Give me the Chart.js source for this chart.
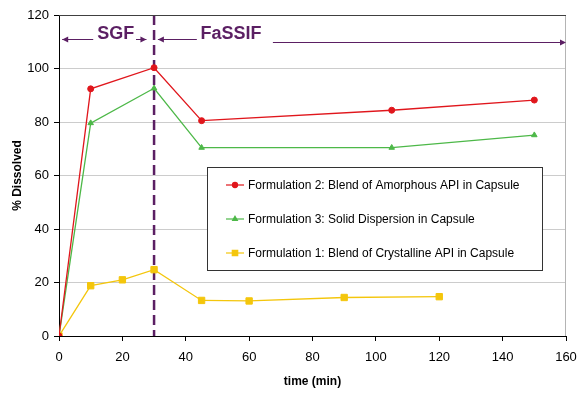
<!DOCTYPE html>
<html>
<head>
<meta charset="utf-8">
<script src="https://cdn.jsdelivr.net/npm/chart.js@4/dist/chart.umd.min.js"></script>
<style>
  html, body { margin: 0; padding: 0; background: #fff; }
  #wrap { width: 586px; height: 399px; }
</style>
</head>
<body>
<div id="wrap"><canvas id="chart"></canvas></div>
<script>
// datos
const labels = [
  'Formulation 2: Blend of Amorphous API in Capsule',
  'Formulation 3: Solid Dispersion in Capsule',
  'Formulation 1: Blend of Crystalline API in Capsule'
];
const timeF2 = [0, 10, 30, 45, 105, 150];
const valsF2 = [0, 92.4, 100.3, 80.5, 84.4, 88.2];
const timeF3 = [0, 10, 30, 45, 105, 150];
const valsF3 = [0, 79.6, 92.6, 70.4, 70.4, 75.1];
const timeF1 = [0, 10, 20, 30, 45, 60, 90, 120];
const valsF1 = [0, 18.8, 21.0, 24.8, 13.3, 13.1, 14.4, 14.7];
const xTicks = [0, 20, 40, 60, 80, 100, 120, 140, 160];
const yTicks = [0, 20, 40, 60, 80, 100, 120];
const phaseSwitch = 30; // SGF -> FaSSIF

const colors = ['#e0161c', '#4db848', '#f4c60c'];
const styles = ['circle', 'triangle', 'rect'];
const radii = [3, 3.2, 4.5];
const purple = '#5b1f63';
const FONT = '"Liberation Sans", Arial, sans-serif';

const toXY = (xs, ys) => xs.map((x, i) => ({ x: x, y: ys[i] }));
const series = [toXY(timeF2, valsF2), toXY(timeF3, valsF3), toXY(timeF1, valsF1)];

function arrowHead(ctx, x, y, dir) {
  ctx.beginPath();
  ctx.moveTo(x, y);
  ctx.lineTo(x - dir * 6, y - 3);
  ctx.lineTo(x - dir * 6, y + 3);
  ctx.closePath();
  ctx.fill();
}

const overlay = {
  id: 'overlay',
  beforeDatasetsDraw(chart) {
    const { ctx, scales: { x, y } } = chart;
    ctx.save();
    ctx.strokeStyle = purple;
    ctx.lineWidth = 2.5;
    ctx.setLineDash([10, 5]);
    ctx.beginPath();
    ctx.moveTo(x.getPixelForValue(phaseSwitch), y.getPixelForValue(120));
    ctx.lineTo(x.getPixelForValue(phaseSwitch), y.getPixelForValue(0));
    ctx.stroke();
    ctx.restore();
  },
  afterDatasetsDraw(chart) {
    const { ctx, chartArea: a, scales: { x, y } } = chart;
    ctx.save();
    // borde del area
    ctx.lineWidth = 1;
    ctx.strokeStyle = '#b4b4b4';
    ctx.beginPath();
    ctx.moveTo(a.right - 0.5, a.top);
    ctx.lineTo(a.right - 0.5, a.bottom);
    ctx.stroke();
    ctx.strokeStyle = '#404040';
    ctx.beginPath();
    ctx.moveTo(a.left, a.top + 0.5);
    ctx.lineTo(a.right, a.top + 0.5);
    ctx.stroke();

    // flechas SGF / FaSSIF
    ctx.strokeStyle = purple;
    ctx.fillStyle = purple;
    const yA = Math.round(y.getPixelForValue(111)) + 0.5;
    const yB = Math.round(y.getPixelForValue(110)) + 0.5;
    const seg = (x1, x2, yy) => {
      ctx.beginPath();
      ctx.moveTo(x.getPixelForValue(x1), yy);
      ctx.lineTo(x.getPixelForValue(x2), yy);
      ctx.stroke();
    };
    seg(1, 10.8, yA); arrowHead(ctx, x.getPixelForValue(1), yA, -1);
    seg(24.3, 27.6, yA); arrowHead(ctx, x.getPixelForValue(27.6), yA, 1);
    seg(31.2, 43.5, yA); arrowHead(ctx, x.getPixelForValue(31.2), yA, -1);
    seg(67.5, 159.5, yB); arrowHead(ctx, x.getPixelForValue(160), yB, 1);

    ctx.font = 'bold 18px ' + FONT;
    ctx.textAlign = 'center';
    ctx.textBaseline = 'middle';
    ctx.fillText('SGF', x.getPixelForValue(17.9), y.getPixelForValue(113));
    ctx.fillText('FaSSIF', x.getPixelForValue(54.3), y.getPixelForValue(113));

    // leyenda dentro del grafico
    const lx = 207, ly = 167, lw = 335, lh = 103;
    ctx.fillStyle = '#fff';
    ctx.fillRect(lx, ly, lw, lh);
    ctx.strokeStyle = '#333';
    ctx.strokeRect(lx + 0.5, ly + 0.5, lw, lh);
    ctx.font = '12px ' + FONT;
    ctx.textAlign = 'left';
    const rows = [185, 219, 253];
    labels.forEach((lab, i) => {
      ctx.strokeStyle = colors[i];
      ctx.lineWidth = 1.2;
      ctx.beginPath();
      ctx.moveTo(226, rows[i]);
      ctx.lineTo(244, rows[i]);
      ctx.stroke();
      ctx.fillStyle = colors[i];
      Chart.helpers.drawPoint(ctx, { pointStyle: styles[i], radius: radii[i] * 0.85, borderWidth: 1 }, 235, rows[i]);
      ctx.fillStyle = '#000';
      ctx.fillText(lab, 248, rows[i] + 0.5);
    });
    ctx.restore();
  }
};

new Chart(document.getElementById('chart'), {
  type: 'scatter',
  data: {
    datasets: series.map((d, i) => ({
      label: labels[i],
      data: d,
      showLine: true,
      borderColor: colors[i],
      backgroundColor: colors[i],
      borderWidth: 1.3,
      pointStyle: styles[i],
      pointRadius: radii[i],
      pointBorderWidth: 1,
      tension: 0
    }))
  },
  options: {
    responsive: true,
    maintainAspectRatio: false,
    animation: false,
    layout: { padding: { left: 6, right: 20, top: 15, bottom: 6 } },
    plugins: {
      legend: { display: false },
      tooltip: { enabled: false }
    },
    scales: {
      x: {
        type: 'linear',
        min: 0,
        max: 160,
        afterBuildTicks: s => { s.ticks = xTicks.map(v => ({ value: v })); },
        afterFit: s => { s.height = 57; },
        ticks: { color: '#000', padding: 9, maxRotation: 0,
                 font: { family: FONT, size: 13 } },
        grid: { drawOnChartArea: false, color: '#000', tickLength: 5 },
        border: { color: '#000', width: 1 },
        title: { display: true, text: 'time (min)', color: '#000',
                 font: { family: FONT, size: 12, weight: 'bold' } }
      },
      y: {
        min: 0,
        max: 120,
        afterBuildTicks: s => { s.ticks = yTicks.map(v => ({ value: v })); },
        afterFit: s => { s.width = 53; },
        ticks: { color: '#000', padding: 5,
                 font: { family: FONT, size: 13 } },
        grid: { color: '#cccccc', tickColor: '#000', tickLength: 5 },
        border: { color: '#000', width: 1 },
        title: { display: true, text: '% Dissolved', color: '#000',
                 font: { family: FONT, size: 12, weight: 'bold' } }
      }
    }
  },
  plugins: [overlay]
});
</script>
</body>
</html>
